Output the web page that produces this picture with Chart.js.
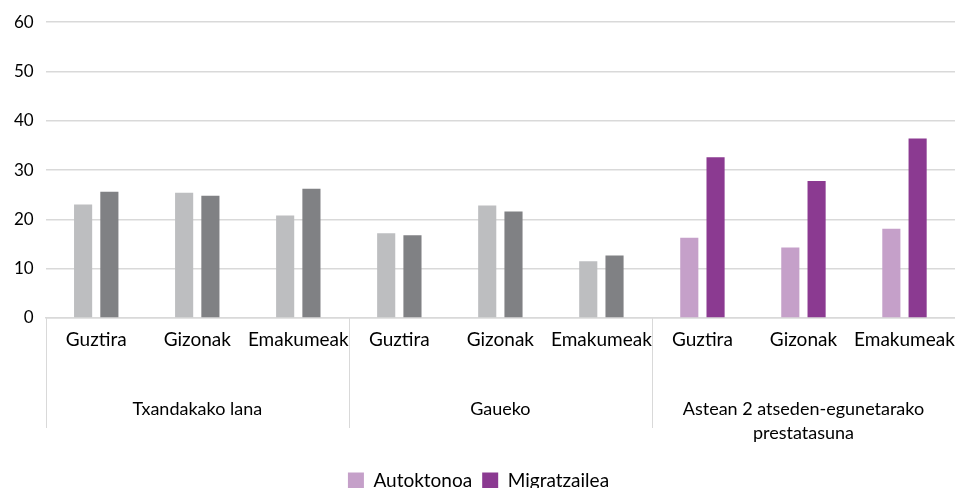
<!DOCTYPE html>
<html>
<head>
<meta charset="utf-8">
<script src="https://cdn.jsdelivr.net/npm/chart.js@4.4.1/dist/chart.umd.min.js"></script>
<style>
  html, body { margin: 0; padding: 0; background: #fff; }
  #wrap { width: 955px; height: 488px; }
</style>
</head>
<body>
<div id="wrap"><canvas id="c" width="955" height="488"></canvas></div>
<script>
const categories = ["Guztira", "Gizonak", "Emakumeak", "Guztira", "Gizonak", "Emakumeak", "Guztira", "Gizonak", "Emakumeak"];
const groups = ["Txandakako lana", "Gaueko", ["Astean 2 atseden-egunetarako", "prestatasuna"]];
const autoktonoa = [23.0, 25.4, 20.8, 17.2, 22.8, 11.5, 16.3, 14.3, 18.1];
const migratzailea = [25.6, 24.8, 26.2, 16.8, 21.6, 12.7, 32.6, 27.8, 36.4];
const yTicks = [0, 10, 20, 30, 40, 50, 60];

const lightColors = ["#BDBEC0","#BDBEC0","#BDBEC0","#BDBEC0","#BDBEC0","#BDBEC0","#C5A0C9","#C5A0C9","#C5A0C9"];
const darkColors  = ["#808184","#808184","#808184","#808184","#808184","#808184","#8B3A91","#8B3A91","#8B3A91"];
const legendColors = ["#C5A0C9", "#8B3A91"];

const FONT = "Lato, 'Open Sans', sans-serif";

const dividerPlugin = {
  id: 'dividers',
  afterDraw(chart) {
    const x = chart.scales.x;
    const ctx = chart.ctx;
    const step = x.getPixelForValue(1) - x.getPixelForValue(0);
    const top = chart.chartArea.bottom;
    const bottom = top + 110;
    ctx.save();
    ctx.strokeStyle = '#d9d9d9';
    ctx.lineWidth = 1;
    for (let i = 0; i < categories.length; i += 3) {
      const px = Math.round(x.getPixelForValue(i) - step / 2) + 0.5;
      ctx.beginPath();
      ctx.moveTo(px, top);
      ctx.lineTo(px, bottom);
      ctx.stroke();
    }
    ctx.restore();
  }
};

new Chart(document.getElementById('c'), {
  type: 'bar',
  data: {
    labels: categories,
    datasets: [
      { label: 'Autoktonoa', data: autoktonoa, backgroundColor: lightColors, barPercentage: 0.69, categoryPercentage: 0.52, xAxisID: 'x' },
      { label: 'Migratzailea', data: migratzailea, backgroundColor: darkColors, barPercentage: 0.69, categoryPercentage: 0.52, xAxisID: 'x' }
    ]
  },
  options: {
    responsive: false,
    animation: false,
    devicePixelRatio: 1,
    layout: { padding: { left: 2, right: 0, top: 6, bottom: -12 } },
    plugins: {
      tooltip: { enabled: false },
      legend: {
        position: 'bottom',
        labels: {
          font: { family: FONT, size: 19 },
          color: '#000',
          boxWidth: 16,
          boxHeight: 16,
          padding: 10,
          generateLabels(chart) {
            return chart.data.datasets.map((d, i) => ({
              text: d.label,
              fillStyle: legendColors[i],
              strokeStyle: legendColors[i],
              lineWidth: 0,
              hidden: false,
              datasetIndex: i,
              fontColor: '#000'
            }));
          }
        }
      }
    },
    scales: {
      x: {
        type: 'category',
        position: 'bottom',
        grid: { display: false, drawTicks: false },
        border: { display: true, color: '#d9d9d9', width: 1.5 },
        ticks: { font: { family: FONT, size: 19 }, color: '#000', padding: 10, maxRotation: 0, autoSkip: false },
        afterFit(scale) { scale.height = 33; scale.paddingLeft = 0; scale.paddingRight = 0; }
      },
      x2: {
        type: 'category',
        position: 'bottom',
        labels: groups,
        grid: { display: false, drawTicks: false },
        border: { display: false },
        ticks: { font: { family: FONT, size: 18, lineHeight: 1.33 }, color: '#000', padding: 46, maxRotation: 0, autoSkip: false },
        afterFit(scale) { scale.height = 110; scale.paddingLeft = 0; scale.paddingRight = 0; }
      },
      y: {
        min: 0, max: 60,
        afterBuildTicks(scale) { scale.ticks = yTicks.map(v => ({ value: v })); },
        grid: { color: '#d9d9d9', drawTicks: false, lineWidth: 1.5 },
        border: { display: false },
        ticks: { font: { family: FONT, size: 17 }, color: '#000', padding: 12 }
      }
    }
  },
  plugins: [dividerPlugin]
});
</script>
</body>
</html>
